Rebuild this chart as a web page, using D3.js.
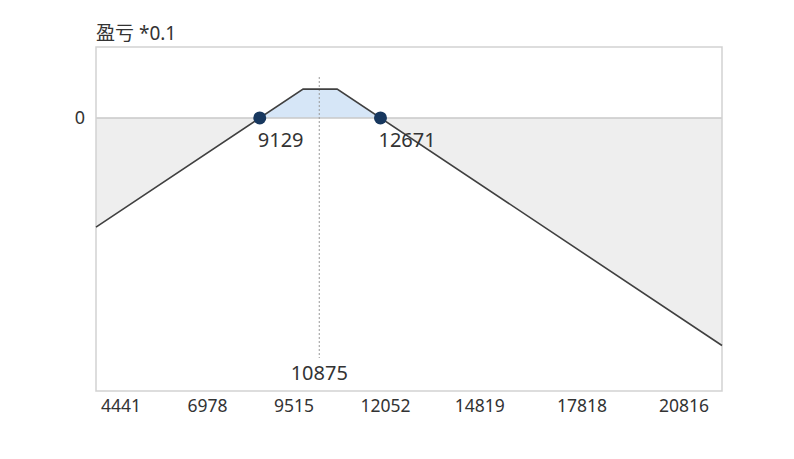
<!DOCTYPE html>
<html>
<head>
<meta charset="utf-8">
<script src="https://cdn.jsdelivr.net/npm/d3@7"></script>
<style>
  body { margin: 0; background: #fff; }
  text { font-family: "Noto Sans", "Noto Sans CJK SC", sans-serif; fill: #333; }
</style>
</head>
<body>
<script>
// payoff curve vertices (price, pnl *0.1)
const priceX = [4324, 10400, 11400, 22692];
const pnl = [-4805, 1271, 1271, -10021];
const breakEvens = [9129, 12671];
const currentPrice = 10875;
const xTicks = [4441, 6978, 9515, 12052, 14819, 17818, 20816];
const yTicks = [0];
const title = '盈亏 *0.1';

const W = 794, H = 459;
const plotL = 96, plotR = 722, plotT = 47, plotB = 391;

const svg = d3.select('body').append('svg')
  .attr('width', W)
  .attr('height', H);

const x = d3.scaleLinear().domain([4324, 22692]).range([plotL, plotR]);
const y = d3.scaleLinear().domain([-12025, 3124]).range([plotB, plotT]);

const pts = priceX.map((p, i) => ({ p, v: pnl[i] }));

// clip regions above / below zero
const defs = svg.append('defs');
defs.append('clipPath').attr('id', 'above')
  .append('rect').attr('x', plotL).attr('y', plotT)
  .attr('width', plotR - plotL).attr('height', y(0) - plotT);
defs.append('clipPath').attr('id', 'below')
  .append('rect').attr('x', plotL).attr('y', y(0))
  .attr('width', plotR - plotL).attr('height', plotB - y(0));

const area = d3.area()
  .x(d => x(d.p))
  .y0(y(0))
  .y1(d => y(d.v));

svg.append('path')
  .datum(pts)
  .attr('d', area)
  .attr('fill', '#d6e6f7')
  .attr('clip-path', 'url(#above)');

svg.append('path')
  .datum(pts)
  .attr('d', area)
  .attr('fill', '#eeeeee')
  .attr('clip-path', 'url(#below)');

// zero line
svg.selectAll('.yline')
  .data(yTicks)
  .enter()
  .append('line')
  .attr('x1', plotL).attr('x2', plotR)
  .attr('y1', d => y(d)).attr('y2', d => y(d))
  .attr('stroke', '#c8c8c8')
  .attr('stroke-width', 1.5);

svg.selectAll('.ylabel')
  .data(yTicks)
  .enter()
  .append('text')
  .attr('x', 85)
  .attr('y', d => y(d))
  .attr('dy', '0.35em')
  .attr('text-anchor', 'end')
  .attr('font-size', 18)
  .text(d => d);

// frame
svg.append('rect')
  .attr('x', plotL).attr('y', plotT)
  .attr('width', plotR - plotL).attr('height', plotB - plotT)
  .attr('fill', 'none')
  .attr('stroke', '#d2d2d2')
  .attr('stroke-width', 1.5);

// current price marker
svg.append('line')
  .attr('x1', x(currentPrice)).attr('x2', x(currentPrice))
  .attr('y1', 77).attr('y2', 358)
  .attr('stroke', '#999')
  .attr('stroke-width', 1)
  .attr('stroke-dasharray', '2,2');

svg.append('text')
  .attr('x', x(currentPrice))
  .attr('y', 380)
  .attr('text-anchor', 'middle')
  .attr('font-size', 20)
  .text(currentPrice);

// payoff line
svg.append('path')
  .datum(pts)
  .attr('d', d3.line().x(d => x(d.p)).y(d => y(d.v)))
  .attr('fill', 'none')
  .attr('stroke', '#404040')
  .attr('stroke-width', 1.6);

// break-even points
svg.selectAll('.be')
  .data(breakEvens)
  .enter()
  .append('circle')
  .attr('cx', d => x(d))
  .attr('cy', y(0))
  .attr('r', 6.5)
  .attr('fill', '#17375e');

svg.selectAll('.belabel')
  .data(breakEvens)
  .enter()
  .append('text')
  .attr('x', d => x(d) - 2)
  .attr('y', y(0) + 29)
  .attr('font-size', 20)
  .text(d => d);

// x tick labels
svg.selectAll('.xlabel')
  .data(xTicks)
  .enter()
  .append('text')
  .attr('x', d => x(d) + 1)
  .attr('y', 412)
  .attr('font-size', 17.5)
  .text(d => d);

// title
svg.append('text')
  .attr('x', 96)
  .attr('y', 40)
  .attr('font-size', 19)
  .text(title);
</script>
</body>
</html>
